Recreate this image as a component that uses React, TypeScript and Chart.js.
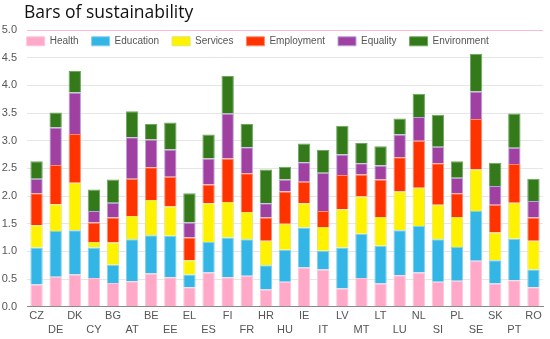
import React, { useEffect, useRef } from "react";
import { Chart, registerables } from "chart.js";

Chart.register(...registerables);

const countries = ["CZ","DE","DK","CY","BG","AT","BE","EE","EL","ES","FI","FR","HR","HU","IE","IT","LV","MT","LT","LU","NL","SI","PL","SE","SK","PT","RO"];
const health = [0.40,0.54,0.58,0.52,0.43,0.46,0.60,0.53,0.35,0.62,0.53,0.56,0.31,0.45,0.71,0.67,0.33,0.52,0.42,0.57,0.62,0.45,0.47,0.83,0.42,0.48,0.35];
const education = [0.67,0.83,0.80,0.55,0.33,0.76,0.69,0.75,0.23,0.55,0.72,0.66,0.44,0.58,0.72,0.34,0.74,0.80,0.68,0.81,0.84,0.77,0.61,0.90,0.42,0.75,0.32];
const services = [0.40,0.48,0.86,0.10,0.40,0.42,0.64,0.53,0.26,0.70,0.64,0.49,0.44,0.47,0.44,0.43,0.69,0.67,0.52,0.70,0.69,0.62,0.54,0.75,0.50,0.65,0.52];
const employment = [0.58,0.71,0.88,0.35,0.45,0.67,0.59,0.54,0.41,0.34,0.79,0.70,0.42,0.58,0.39,0.29,0.62,0.40,0.68,0.62,0.85,0.75,0.43,0.91,0.50,0.70,0.42];
const equality = [0.26,0.68,0.75,0.21,0.27,0.75,0.50,0.49,0.27,0.47,0.81,0.47,0.26,0.22,0.35,0.69,0.37,0.20,0.25,0.41,0.43,0.30,0.28,0.50,0.34,0.29,0.30];
const environment = [0.32,0.27,0.39,0.39,0.42,0.47,0.28,0.49,0.53,0.43,0.68,0.42,0.61,0.23,0.34,0.41,0.52,0.37,0.35,0.29,0.42,0.58,0.30,0.68,0.42,0.62,0.40];

const seriesNames = ["Health","Education","Services","Employment","Equality","Environment"];
const seriesColors = ["#ffa8c8","#33b5e5","#fff200","#ff3300","#a040a0","#347a1a"];
const seriesBorders = ["#ffc6da","#80d0ef","#e2e66a","#ff8a6e","#b4a4e2","#6ea860"];

const titleText = "Bars of sustainability";

export default function App() {
  const ref = useRef<HTMLCanvasElement | null>(null);
  useEffect(() => {
    document.body.style.margin = "0";
    const values = [health, education, services, employment, equality, environment];
    const titlePlugin = {
      id: "customTitle",
      afterLayout(chart: any) {
        const lg = chart.legend;
        if (lg) {
          const dy = 41.3 - (lg.top + 13 + 5);
          const dx = 26.7 - (lg.left + 13);
          lg.left += dx;
          lg.right += dx;
          lg.top += dy;
          lg.bottom += dy;
        }
      },
      afterDraw(chart: any) {
        const c = chart.ctx;
        c.save();
        c.font = "17.5px 'Open Sans'";
        c.fillStyle = "#111";
        c.textAlign = "left";
        c.textBaseline = "alphabetic";
        c.fillText(titleText, 24, 18);
        c.restore();
      },
    };
    const chart = new Chart(ref.current as HTMLCanvasElement, {
      type: "bar",
      data: {
        labels: countries,
        datasets: seriesNames.map((n, i) => ({
          label: n,
          data: values[i],
          backgroundColor: seriesColors[i],
          borderColor: seriesBorders[i],
          borderWidth: 1,
          barPercentage: 0.9,
          categoryPercentage: 0.72,
        })),
      },
      options: {
        animation: false,
        responsive: false,
        layout: { padding: { top: -3, left: 0, right: 7, bottom: 0 } },
        plugins: {
          title: { display: false },
          tooltip: { enabled: false },
          legend: {
            position: "top",
            align: "start",
            labels: {
              boxWidth: 18,
              boxHeight: 9,
              padding: 13,
              color: "#555",
              font: { family: "'Liberation Sans', Arial", size: 10 },
            },
          },
        },
        scales: {
          x: {
            stacked: true,
            grid: { display: false, drawTicks: false },
            border: { display: true, color: "#888" },
            afterFit: (s: any) => { s.height = 32.3; },
            ticks: {
              autoSkip: false,
              maxRotation: 0,
              padding: 3,
              color: "#555",
              font: { family: "'Liberation Sans', Arial", size: 11 },
              callback: (_v: any, i: number) => (i % 2 === 0 ? [countries[i], ""] : ["", countries[i]]),
            },
          },
          y: {
            stacked: true,
            min: 0,
            max: 5,
            afterFit: (s: any) => { s.width = 27; },
            border: { display: false },
            grid: {
              drawTicks: false,
              color: (ctx: any) => (ctx.tick && Math.abs(ctx.tick.value - 5) < 1e-6 ? "#f7bccd" : "#e6e6e6"),
            },
            ticks: {
              stepSize: 0.25,
              padding: 10,
              color: "#555",
              font: { family: "'Liberation Sans', Arial", size: 11 },
              callback: (v: any) => {
                const n = Number(v);
                return Math.round(n * 100) % 50 === 0 ? n.toFixed(1) : "";
              },
            },
          },
        },
      },
      plugins: [titlePlugin],
    });
    return () => chart.destroy();
  }, []);
  return (
    <div style={{ width: 550, height: 339 }}>
      <canvas ref={ref} width={550} height={339} />
    </div>
  );
}
